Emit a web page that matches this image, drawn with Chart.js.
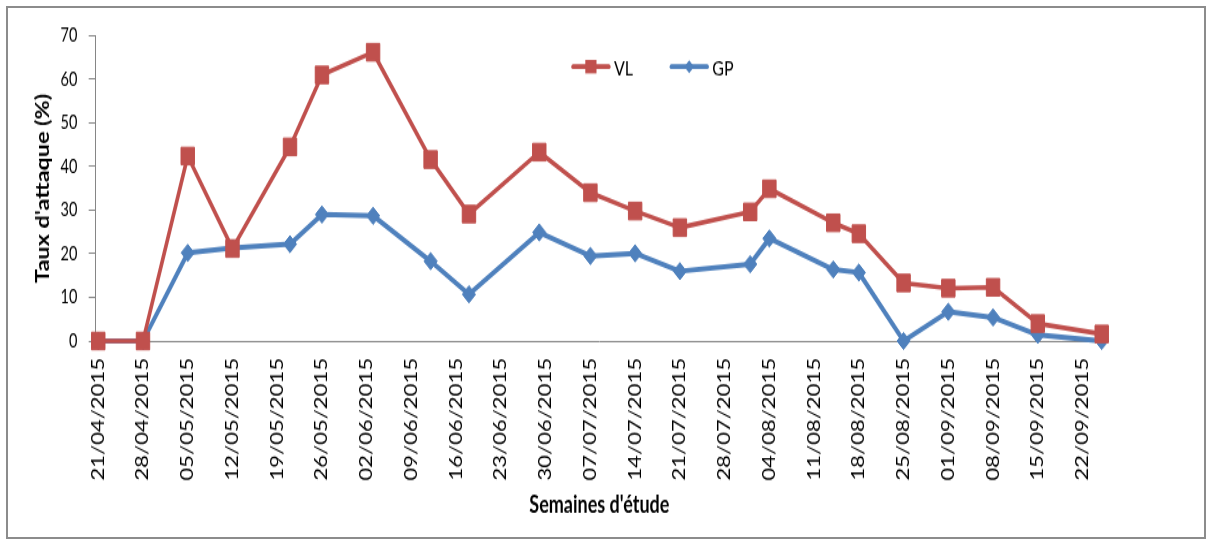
<!DOCTYPE html>
<html lang="fr">
<head>
<meta charset="utf-8">
<title>Taux d'attaque VL / GP</title>
<script src="https://cdn.jsdelivr.net/npm/chart.js@4.4.1/dist/chart.umd.min.js"></script>
<style>
  html, body { margin: 0; padding: 0; background: #fff; }
  #stage { position: absolute; left: 0; top: 0; width: 1212px; height: 544px; overflow: hidden; background: #fff; }
  #frame { position: absolute; left: 6px; top: 6px; width: 1200px; height: 533px; border: 2px solid #8c8c8c; box-sizing: border-box; }
  /* the chart is laid out at 1212x418 and stretched vertically to fill the 544px stage */
  #chart { position: absolute; left: 0; top: 0; transform-origin: 0 0; transform: scaleY(1.3014); }
</style>
</head>
<body>
<div id="stage">
  <div id="frame"></div>
  <canvas id="chart" width="1212" height="418"></canvas>
</div>
<script>
// Weekly axis labels (one every 7 days)
const weekLabels = [
  '21/04/2015', '28/04/2015', '05/05/2015', '12/05/2015', '19/05/2015', '26/05/2015',
  '02/06/2015', '09/06/2015', '16/06/2015', '23/06/2015', '30/06/2015', '07/07/2015',
  '14/07/2015', '21/07/2015', '28/07/2015', '04/08/2015', '11/08/2015', '18/08/2015',
  '25/08/2015', '01/09/2015', '08/09/2015', '15/09/2015', '22/09/2015'
];

// Survey dates
const sampleDates = [
  '21/04/2015', '28/04/2015', '05/05/2015', '12/05/2015', '21/05/2015', '26/05/2015',
  '03/06/2015', '12/06/2015', '18/06/2015', '29/06/2015', '07/07/2015', '14/07/2015',
  '21/07/2015', '01/08/2015', '04/08/2015', '14/08/2015', '18/08/2015', '25/08/2015',
  '01/09/2015', '08/09/2015', '15/09/2015', '25/09/2015'
];

// Attack rate (%) per survey date
const vlValues = [0, 0, 42.4, 21.2, 44.5, 61.0, 66.2, 41.6, 29.1, 43.3, 34.0, 29.8,
                  26.0, 29.6, 34.9, 27.1, 24.6, 13.3, 12.1, 12.3, 4.0, 1.6];
const gpValues = [0, 0, 20.2, 21.3, 22.2, 29.0, 28.7, 18.3, 10.7, 24.9, 19.5, 20.1,
                  16.0, 17.6, 23.5, 16.4, 15.7, 0, 6.7, 5.4, 1.4, 0];

const seriesNames = ['VL', 'GP'];
const seriesColors = ['#C0504D', '#4F81BD'];

// day number counted from the first week label
function dayIndex(s) {
  const [d, m, y] = s.split('/').map(Number);
  const [d0, m0, y0] = weekLabels[0].split('/').map(Number);
  return Math.round((Date.UTC(y, m - 1, d) - Date.UTC(y0, m0 - 1, d0)) / 86400000);
}

const labelByDay = {};
weekLabels.forEach(l => { labelByDay[dayIndex(l)] = l; });

const toPoints = vals => sampleDates.map((d, i) => ({ x: dayIndex(d), y: vals[i] }));

// legend: line segment with its marker, then the series name
const seriesKey = {
  id: 'seriesKey',
  afterDraw(chart) {
    const ctx = chart.ctx;
    const area = chart.chartArea;
    const y = 51.2;
    const starts = [area.left + 476, area.left + 574.3];
    chart.data.datasets.forEach((ds, i) => {
      const x0 = starts[i];
      const cx = x0 + 19.2;
      ctx.save();
      ctx.strokeStyle = ds.borderColor;
      ctx.fillStyle = ds.borderColor;
      ctx.lineWidth = 3.8;
      ctx.lineCap = 'round';
      ctx.beginPath();
      ctx.moveTo(x0 + 1.5, y);
      ctx.lineTo(x0 + 37, y);
      ctx.stroke();
      if (ds.pointStyle === 'rect') {
        ctx.fillRect(cx - 5.6, y - 5.2, 11.2, 10.4);
      } else {
        ctx.beginPath();
        ctx.moveTo(cx - 4.8, y);
        ctx.lineTo(cx, y - 5);
        ctx.lineTo(cx + 4.8, y);
        ctx.lineTo(cx, y + 5);
        ctx.closePath();
        ctx.fill();
      }
      ctx.fillStyle = '#000';
      ctx.font = '16px Lato';
      ctx.textBaseline = 'middle';
      ctx.textAlign = 'left';
      ctx.fillText(ds.label, x0 + 42.3, y + 1.3);
      ctx.restore();
    });
  }
};

const axisGrey = '#868686';

new Chart(document.getElementById('chart'), {
  type: 'line',
  data: {
    datasets: [
      {
        label: seriesNames[0],
        data: toPoints(vlValues),
        borderColor: seriesColors[0],
        backgroundColor: seriesColors[0],
        borderWidth: 3.6,
        borderJoinStyle: 'round',
        pointStyle: 'rect',
        pointRadius: 9.5,
        pointBorderWidth: 1,
        pointBackgroundColor: seriesColors[0],
        pointBorderColor: seriesColors[0],
        fill: false,
        clip: false
      },
      {
        label: seriesNames[1],
        data: toPoints(gpValues),
        borderColor: seriesColors[1],
        backgroundColor: seriesColors[1],
        borderWidth: 4,
        borderJoinStyle: 'round',
        pointStyle: 'rectRot',
        pointRadius: 6.6,
        pointBorderWidth: 1,
        pointBackgroundColor: seriesColors[1],
        pointBorderColor: seriesColors[1],
        fill: false,
        clip: false
      }
    ]
  },
  options: {
    responsive: false,
    animation: false,
    devicePixelRatio: 1,
    events: [],
    layout: { padding: { top: 27.4, right: 109, bottom: 0, left: 0 } },
    plugins: {
      legend: { display: false },
      tooltip: { enabled: false }
    },
    scales: {
      x: {
        type: 'linear',
        bounds: 'data',
        min: -0.4,
        max: 157.2,
        afterBuildTicks: s => { s.ticks = weekLabels.map(l => ({ value: dayIndex(l) })); },
        afterFit: s => { s.height = 156; },
        grid: { display: false, drawTicks: false },
        border: { display: true, color: axisGrey, width: 1 },
        ticks: {
          autoSkip: false,
          minRotation: 90,
          maxRotation: 90,
          padding: 13,
          color: '#000',
          font: { family: 'Lato', size: 17 },
          callback: v => labelByDay[v] || ''
        },
        title: {
          display: true,
          text: "Semaines d'étude",
          color: '#000',
          font: { family: 'Lato', size: 18, weight: 'bold' },
          padding: { top: 0, bottom: 18.6 }
        }
      },
      y: {
        min: 0,
        max: 70,
        afterFit: s => { s.width = 95.7; },
        grid: { drawOnChartArea: false, drawTicks: true, tickLength: 7, color: axisGrey },
        border: { display: true, color: axisGrey, width: 1 },
        ticks: {
          stepSize: 10,
          padding: 11.4,
          color: '#000',
          font: { family: 'Lato', size: 14.5 }
        },
        title: {
          display: true,
          text: "Taux d'attaque (%)",
          color: '#000',
          font: { family: 'Lato', size: 18, weight: 'bold' },
          padding: { top: 32.7, bottom: 0 }
        }
      }
    }
  },
  plugins: [seriesKey]
});
</script>
</body>
</html>
